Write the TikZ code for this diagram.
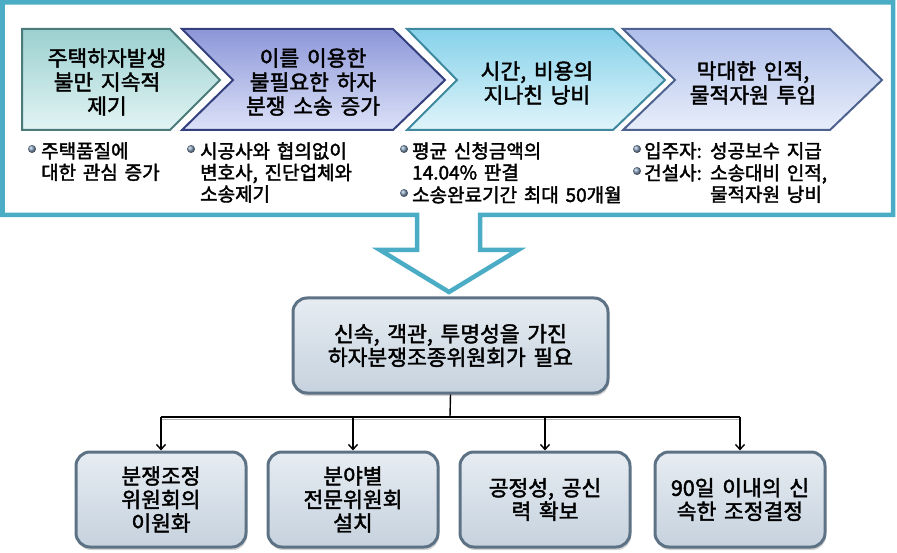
\documentclass[tikz,border=0pt]{standalone}
\usepackage{fontspec}
\setmainfont{Noto Sans CJK KR}[WordSpace=1.6, FakeBold=2]
\usepackage{xcolor}
\usepackage{tikz}
\usetikzlibrary{positioning,shadows,arrows.meta}

\definecolor{framecol}{HTML}{4BACC6}
\definecolor{chevAtop}{HTML}{9CD0D0}
\definecolor{chevAbot}{HTML}{E2F4F4}
\definecolor{chevAedge}{HTML}{4A7A7A}
\definecolor{chevBtop}{HTML}{8C96D8}
\definecolor{chevBbot}{HTML}{DCE2F8}
\definecolor{chevBedge}{HTML}{34407E}
\definecolor{chevCtop}{HTML}{86D2EA}
\definecolor{chevCbot}{HTML}{E0F4FA}
\definecolor{chevCedge}{HTML}{3E88A0}
\definecolor{chevDtop}{HTML}{AEBEEA}
\definecolor{chevDbot}{HTML}{E8EEFA}
\definecolor{chevDedge}{HTML}{4E6290}
\definecolor{boxtop}{HTML}{E6ECF2}
\definecolor{boxbot}{HTML}{C6D2DE}
\definecolor{boxedge}{HTML}{5E7286}
\definecolor{dotcol}{HTML}{7E98B4}

\begin{document}
\begin{tikzpicture}[x=1pt, y=-1pt, >={Straight Barb[length=5pt,width=9pt]},
  chevron/.style={line width=2pt, line join=miter},
  chevtext/.style={align=center, font=\fontsize{21.5}{24}\selectfont},
  bullettext/.style={anchor=north west, align=left, inner sep=0pt, font=\fontsize{19}{21.5}\selectfont},
  bulletdot/.style={circle, inner sep=0pt, minimum size=8pt, ball color=dotcol},
  roundbox/.style={rectangle, rounded corners=14pt, draw=boxedge, line width=3pt, top color=boxtop, bottom color=boxbot, align=center, font=\fontsize{21.5}{23.5}\selectfont, drop shadow={shadow xshift=1pt, shadow yshift=-3pt, opacity=0.35}},
  subbox/.style={roundbox, minimum width=170pt, minimum height=95pt}]

\tikzstyle{every node}=[text=black]

\useasboundingbox (0,0) rectangle (897,553);

%Frame and big arrow
\draw[framecol, line width=4.5pt, line join=miter] (417,215) -- (2.5,215) -- (2.5,2.5) -- (893,2.5) -- (893,215) -- (480,215) -- (480,250) -- (518,250) -- (449,292) -- (380,250) -- (417,250) -- cycle;

%Chevrons
\draw[chevron, top color=chevAtop, bottom color=chevAbot, draw=chevAedge] (22,29) -- (170,29) -- (220,80) -- (170,130) -- (22,130) -- cycle;
\draw[chevron, top color=chevBtop, bottom color=chevBbot, draw=chevBedge] (182,29) -- (393,29) -- (445,80) -- (393,130) -- (182,130) -- (233,80) -- cycle;
\draw[chevron, top color=chevCtop, bottom color=chevCbot, draw=chevCedge] (407,29) -- (613,29) -- (665,80) -- (613,130) -- (407,130) -- (457,80) -- cycle;
\draw[chevron, top color=chevDtop, bottom color=chevDbot, draw=chevDedge] (623,29) -- (830,29) -- (882,80) -- (830,130) -- (623,130) -- (675,80) -- cycle;

%Nodes
\node[chevtext] (occur) at (107,82) {주택하자발생\\불만 지속적\\제기};
\node[chevtext] (abuse) at (313,82) {이를 이용한\\불필요한 하자\\분쟁 소송 증가};
\node[chevtext] (waste) at (537,83) {시간, 비용의\\지나친 낭비};
\node[chevtext] (input) at (753,83) {막대한 인적,\\물적자원 투입};

\node[bulletdot] (dA) at (32,149) {};
\node[bullettext] (noteA) [right=6pt of dA.north east, anchor=north west, yshift=4pt] {주택품질에\\대한 관심 증가};
\node[bulletdot] (dB) at (191,149) {};
\node[bullettext] (noteB) [right=6pt of dB.north east, anchor=north west, yshift=4pt] {시공사와 협의없이\\변호사, 진단업체와\\소송제기};
\node[bulletdot] (dC) at (404,149) {};
\node[bullettext] (noteC) [right=5pt of dC.north east, anchor=north west, yshift=4pt] {평균 신청금액의\\14.04\% 판결};
\node[bulletdot] (dD) at (404,193) {};
\node[bullettext] (noteD) [right=5pt of dD.north east, anchor=north west, yshift=4pt] {소송완료기간 최대 50개월};
\node[bulletdot] (dE) at (637,149) {};
\node[bullettext] (noteE) [right=4pt of dE.north east, anchor=north west, yshift=4pt] {입주자: 성공보수 지급};
\node[bulletdot] (dF) at (637,171) {};
\node[bullettext] (noteF) [right=4pt of dF.north east, anchor=north west, yshift=4pt] {건설사: 소송대비 인적,\\\hphantom{건설사: }물적자원 낭비};

\node[roundbox, minimum width=315pt, minimum height=95pt] (need) at (450.5,345.5) {신속, 객관, 투명성을 가진\\하자분쟁조종위원회가 필요};

\node[subbox] (dual) at (161,499.5) {분쟁조정\\위원회의\\이원화};
\node[subbox] (expert) [right=19pt of dual] {분야별\\전문위원회\\설치};
\node[subbox] (fair) [right=19pt of expert] {공정성, 공신\\력 확보};
\node[subbox] (quick) [right=22pt of fair] {90일 이내의 신\\속한 조정결정};

\coordinate (bus) at (450,417);
\coordinate (busL) at (dual.north |- bus);
\coordinate (busR) at (quick.north |- bus);

%Lines
\draw[gray!60, line width=1.5pt] ([yshift=-2.5pt]busL) -- ([yshift=-2.5pt]busR);
\draw[line width=1.4pt] (need.south) -- (bus);
\draw[line width=1.4pt] (busL) -- (busR);
\draw[->, line width=1.4pt] (busL) -- (dual.north);
\draw[->, line width=1.4pt] (expert.north |- bus) -- (expert.north);
\draw[->, line width=1.4pt] (fair.north |- bus) -- (fair.north);
\draw[->, line width=1.4pt] (busR) -- (quick.north);

\end{tikzpicture}
\end{document}
